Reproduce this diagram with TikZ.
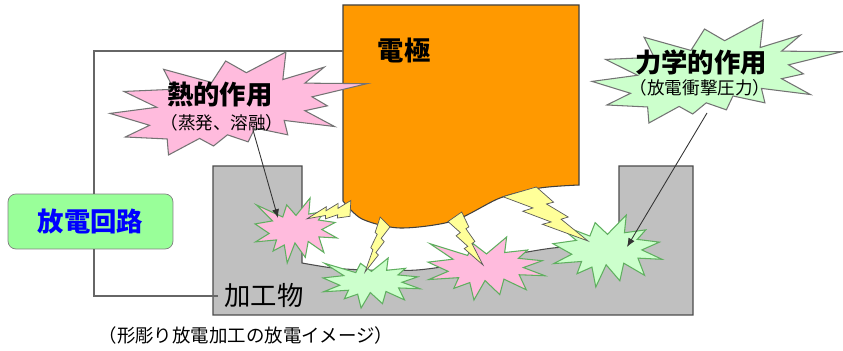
\documentclass[tikz,border=0pt]{standalone}
\usepackage{fontspec}
\setmainfont{Noto Sans CJK JP}
\usetikzlibrary{arrows.meta, calc}

\definecolor{electrode}{HTML}{FF9900}
\definecolor{workgray}{HTML}{C0C0C0}
\definecolor{heatpink}{HTML}{FFBBDD}
\definecolor{forcegreen}{HTML}{CCFFCC}
\definecolor{circuitgreen}{HTML}{99FF99}
\definecolor{sparkyellow}{HTML}{FFFF99}
\definecolor{sealedge}{HTML}{5FAF5F}

% shapes in a unit box, y running downwards
\tikzset{
  bolt/.pic={
    \path[pic actions] (0.3922,0) -- (0.5954,0.2815) -- (0.5116,0.3147) -- (0.7675,0.5559)
      -- (0.6837,0.5962) -- (1,1) -- (0.4635,0.6905) -- (0.5658,0.6476) -- (0.2325,0.4492)
      -- (0.3519,0.3881) -- (0,0.1801) -- cycle;
  },
  seal/.pic={
    \path[pic actions] (0.5,0.2685) -- (0.6723,0) -- (0.6553,0.2465) -- (0.8509,0.2063)
      -- (0.7732,0.3387) -- (0.9767,0.3767) -- (0.8151,0.4850) -- (1,0.6153)
      -- (0.7795,0.5992) -- (0.8400,0.8377) -- (0.6491,0.6693) -- (0.6133,0.9138)
      -- (0.4876,0.6914) -- (0.3928,1) -- (0.3572,0.7235) -- (0.2205,0.8156)
      -- (0.2624,0.6452) -- (0.0063,0.6753) -- (0.1723,0.5451) -- (0,0.3988)
      -- (0.2142,0.3526) -- (0.0171,0.1063) -- (0.3385,0.2926) -- (0.3867,0.1063) -- cycle;
  },
  bigseal/.pic={
    \path[pic actions] (0.5306,0.2010) -- (0.6847,0) -- (0.6725,0.2675) -- (0.8337,0.1469)
      -- (0.7583,0.3024) -- (1,0.3076) -- (0.7863,0.4353) -- (0.8458,0.5227)
      -- (0.7583,0.5699) -- (0.8739,0.7237) -- (0.6778,0.6644) -- (0.6918,0.8042)
      -- (0.5639,0.7377) -- (0.5376,0.8723) -- (0.4570,0.8042) -- (0.4028,0.9126)
      -- (0.3485,0.8391) -- (0.2276,1) -- (0.2225,0.8444) -- (0.0595,0.8252)
      -- (0.1542,0.7116) -- (0,0.5962) -- (0.1822,0.5367) -- (0.0543,0.3829)
      -- (0.2487,0.3619) -- (0.2084,0.1678) -- (0.3958,0.2955) -- (0.4501,0.0874) -- cycle;
  }
}

\begin{document}
\begin{tikzpicture}[
    x=0.02cm, y=-0.02cm,
    wire/.style={draw=black!60, line width=0.6pt},
    callout/.style={draw=black!80, line width=0.5pt, -{Latex[length=5pt,width=4pt]}},
    spark/.style={fill=sparkyellow, draw=black!65, line width=0.4pt},
    sealpink/.style={fill=heatpink, draw=sealedge, line width=0.6pt},
    sealgreen/.style={fill=forcegreen, draw=sealedge, line width=0.6pt},
    title/.style={font=\fontsize{15}{18}\selectfont\bfseries},
    sub/.style={font=\fontsize{10}{12}\selectfont},
    circuitbox/.style={draw=black!50, fill=circuitgreen, rounded corners=4.5pt,
      minimum width=3.3cm, minimum height=1.1cm, text=blue,
      font=\fontsize{15}{18}\selectfont\bfseries}
  ]
  \useasboundingbox (0,0) rectangle (843,351);

  % workpiece with the machined cavity
  \draw[fill=workgray, draw=black!70, line width=0.6pt]
    (213,166) -- (302,166) -- (302,263)
    -- plot[smooth] coordinates {(302,263) (333,268) (367,270) (417,270) (467,263) (500,257) (553,248) (619,243)}
    -- (619,166) -- (693,166) -- (693,315) -- (213,315) -- cycle;
  \node[font=\fontsize{15}{18}\selectfont] (work) at (264,296) {加工物};

  % electrode
  \draw[fill=electrode, draw=black!75, line width=0.6pt]
    (343,5) -- (579,5) -- (579,185)
    -- plot[smooth] coordinates {(579,185) (540,188) (500,198) (453,221) (400,228) (362,219) (343,201)}
    -- cycle;
  \node[title] (eleclabel) at (404,50) {電極};

  % circuit
  \node[circuitbox] (circuit) at (90.5,221.5) {放電回路};
  \coordinate (elecin) at (343,51);
  \draw[wire] (elecin) -| ($(circuit.north)+(3.5,0)$);
  \draw[wire] ($(circuit.south)+(3.5,0)$) |- (work.west);

  % small bursts
  \pic[sealpink, xscale=82, yscale=65] at (255,198) {seal};
  \pic[sealgreen, xscale=97, yscale=50] at (323,258) {seal};
  \pic[sealpink, xscale=117, yscale=63] at (428,237) {seal};
  \pic[sealgreen, xscale=109, yscale=72] at (553,215) {seal};

  % sparks
  \pic[spark, rotate=-118, scale=36.7] at (356.7,203.6) {bolt};
  \pic[spark, xscale=-25, yscale=55] at (390,217) {bolt};
  \pic[spark, xscale=35, yscale=53] at (448,212) {bolt};
  \pic[spark, xscale=85, yscale=54] at (503,187) {bolt};

  % big callouts
  \pic[fill=heatpink, draw=black!55, line width=0.6pt, xscale=257, yscale=103] at (110,52) {bigseal};
  \pic[fill=forcegreen, draw=black!55, line width=0.6pt, xscale=250, yscale=103] at (592,20) {bigseal};
  \node[title] (heat) at (220,95) {熱的作用};
  \node[sub] (heatsub) at (222,123) {（蒸発、溶融）};
  \node[title] (force) at (701,62) {力学的作用};
  \node[sub] (forcesub) at (700,88) {（放電衝撃圧力）};

  \coordinate (heatfoot) at (253,130);
  \coordinate (heatspot) at (278,218);
  \coordinate (forcefoot) at (707,113);
  \coordinate (forcespot) at (627,247);
  \draw[callout] (heatfoot) -- (heatspot);
  \draw[callout] (forcefoot) -- (forcespot);

  \node[font=\fontsize{10.5}{12}\selectfont] (caption) at (246,335) {（形彫り放電加工の放電イメージ）};
\end{tikzpicture}
\end{document}
